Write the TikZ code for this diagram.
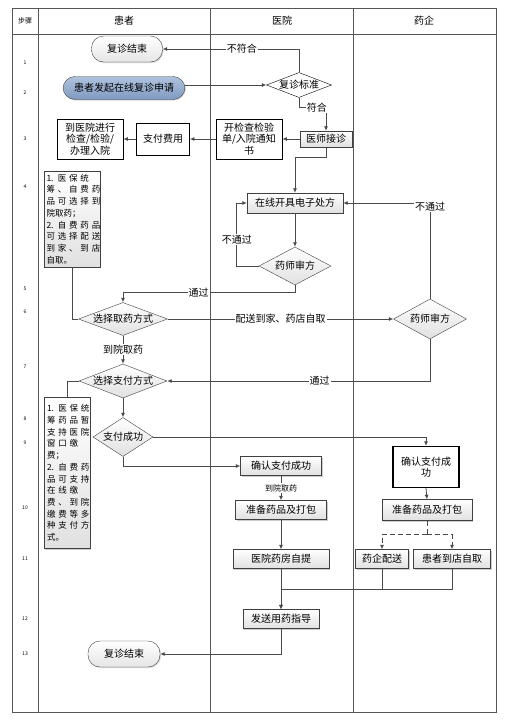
\documentclass[tikz,border=0pt]{standalone}
\usepackage{fontspec}
\setmainfont{Noto Sans CJK SC}
\usepackage{xcolor}
\usetikzlibrary{arrows.meta,positioning,shapes.geometric,shadows,calc}
\definecolor{lanegray}{HTML}{555555}
\definecolor{linegray}{HTML}{4A4A4A}
\definecolor{blueA}{HTML}{AFC3DE}
\definecolor{blueB}{HTML}{7F99C1}
\newcommand{\spread}[2]{\makebox[#1][s]{#2}}

\begin{document}
\begin{tikzpicture}[x=1pt,y=-1pt,
    every node/.style={font=\fontsize{10}{11.5}\selectfont},
    lane/.style   ={draw=lanegray,line width=0.9pt},
    stepno/.style ={font=\fontsize{5}{6}\selectfont},
    gbox/.style   ={rectangle,draw=black!75,top color=white,bottom color=black!12,
                    drop shadow={shadow xshift=1.2pt,shadow yshift=-1.2pt,fill=black!40},
                    inner sep=1pt,align=center},
    wbox/.style   ={rectangle,draw=black,fill=white,line width=0.8pt,
                    inner sep=1pt,align=center},
    term/.style   ={rectangle,rounded corners=12pt,draw=black!75,
                    top color=white,bottom color=black!10,
                    drop shadow={shadow xshift=1pt,shadow yshift=-1pt,fill=black!30}},
    start/.style  ={term,top color=blueA,bottom color=blueB},
    dec/.style    ={diamond,aspect=1,inner sep=0pt,draw=black!75,
                    top color=white,bottom color=black!12},
    note/.style   ={rectangle,draw=black!75,top color=white,bottom color=black!12,
                    drop shadow={shadow xshift=1.2pt,shadow yshift=-1.2pt,fill=black!40},
                    font=\fontsize{8.5}{11.7}\selectfont,align=left,inner sep=2pt},
    arr/.style={-{Latex[length=4.5pt,width=4pt]},draw=linegray,line width=0.8pt},
    ln/.style={draw=linegray,line width=0.8pt},
    lbl/.style={fill=white,inner sep=1pt},
  ]
  \useasboundingbox (0,0) rectangle (504,720);

  % Lanes and header
  \draw[lane] (12,8) rectangle (496,712);
  \draw[lane] (12,34) -- (496,34);
  \foreach \x in {38,210,353}
    \draw[lane] (\x,8) -- (\x,712);
  \node[font=\fontsize{7}{8}\selectfont] (hStep) at (25,21) {步骤};
  \node (hPat)  at (124,21) {患者};
  \node (hHosp) at (282,21) {医院};
  \node (hPh)   at (424,21) {药企};

  % Step numbers
  \foreach \n/\y in {1/63,2/93,3/139,4/187,5/289,6/312,7/367,8/419,9/443,10/508,11/559,12/619,13/654}
    \node[stepno] (s\n) at (25,\y) {\n};

  % Patient lane
  \node[term,minimum width=71pt,minimum height=26pt] (E1) at (127,49) {复诊结束};
  \node[start,minimum width=122pt,minimum height=23pt] (S) at (124,88) {患者发起在线复诊申请};
  \node[wbox,minimum width=66pt,minimum height=40pt] (Chk) at (90,139) {到医院进行\\检查/检验/\\办理入院};
  \node[wbox,minimum width=53pt,minimum height=32pt] (Pay) at (163,139) {支付费用};
  \node[note,minimum width=56pt,minimum height=96pt,text width=51pt] (N1) at (72,219)
    {\spread{51pt}{1. 医 保 统}\\\spread{51pt}{筹 、 自 费 药}\\\spread{51pt}{品 可 选 择 到}\\院取药；\\
     \spread{51pt}{2. 自 费 药 品}\\\spread{51pt}{可 选 择 配 送}\\\spread{51pt}{到 家 、 到 店}\\自取。};
  \node[dec,minimum width=89pt,minimum height=33pt] (D3) at (123,319) {\makebox[0pt]{选择取药方式}};
  \node[dec,minimum width=88pt,minimum height=34pt] (D5) at (123,381) {\makebox[0pt]{选择支付方式}};
  \node[note,minimum width=46pt,minimum height=151pt,text width=40pt,inner xsep=2.5pt] (N2) at (67,473)
    {\spread{40pt}{1. 医 保 统}\\\spread{40pt}{筹 药 品 暂}\\\spread{40pt}{支 持 医 院}\\\spread{40pt}{窗 口 缴}\\费；\\
     \spread{40pt}{2. 自 费 药}\\\spread{40pt}{品 可 支 持}\\\spread{40pt}{在 线 缴}\\\spread{40pt}{费 、 到 院}\\
     \spread{40pt}{缴 费 等 多}\\\spread{40pt}{种 支 付 方}\\式。};
  \node[dec,minimum width=60pt,minimum height=39pt] (D6) at (123,437) {\makebox[0pt]{支付成功}};
  \node[term,minimum width=72pt,minimum height=26pt] (E2) at (124,654) {复诊结束};

  % Hospital lane
  \node[dec,fill=white,top color=white,bottom color=white,draw=black,
        minimum width=65pt,minimum height=25pt] (D1) at (299,85) {\makebox[0pt]{复诊标准}};
  \node[wbox,minimum width=66pt,minimum height=40pt] (Ord) at (249,139) {开检查检验\\单/入院通知\\书};
  \node[gbox,minimum width=52pt,minimum height=16pt] (Doc) at (326,139) {医师接诊};
  \node[gbox,minimum width=96pt,minimum height=20pt] (Rx) at (295,203) {在线开具电子处方};
  \node[dec,minimum width=72pt,minimum height=38pt] (D2) at (295,266) {\makebox[0pt]{药师审方}};
  \node[gbox,minimum width=81pt,minimum height=19pt] (P1) at (281,466) {确认支付成功};
  \node[gbox,minimum width=91pt,minimum height=19pt] (P2) at (281,510) {准备药品及打包};
  \node[gbox,minimum width=96pt,minimum height=19pt] (P3) at (281,559) {医院药房自提};
  \node[gbox,minimum width=76pt,minimum height=19pt] (P4) at (281,619) {发送用药指导};

  % Pharma lane
  \node[dec,minimum width=73pt,minimum height=40pt] (D4) at (430,319) {\makebox[0pt]{药师审方}};
  \node[wbox,line width=1.2pt,minimum width=66pt,minimum height=41pt] (Q1) at (426,467) {确认支付成\\功};
  \node[gbox,minimum width=90pt,minimum height=21pt] (Q2) at (427,510) {准备药品及打包};
  \node[gbox,minimum width=53pt,minimum height=19pt] (Q3) at (382,559) {药企配送};
  \node[gbox,minimum width=77pt,minimum height=19pt] (Q4) at (452,559) {患者到店自取};

  % Connectors
  \draw[arr] (S.east |- D1.west) -- (D1.west);
  \draw[arr] (D1.north) |- (E1.east) node[lbl,pos=0.71] {不符合};
  \draw[arr] (D1.south) -- ++(0,10) -| (Doc.north) node[lbl,pos=0.33] {符合};
  \draw[arr] (Doc.west) -- (Ord.east);
  \draw[arr] (Ord.west) -- (Pay.east);
  \draw[arr] (Pay.west) -- (Chk.east);
  \draw[arr] (Doc.south) -- ++(0,10) -| (Rx.north);
  \draw[arr] (Rx.south) -- (D2.north);
  \draw[arr] (D2.west) -- ++(-22,0) |- (Rx.west) node[lbl,pos=0.21] {不通过};
  \draw[arr] (D2.south) -- ++(0,7) -| (D3.north) node[lbl,pos=0.28] {通过};
  \draw[ln]  (N1.south) |- (D3.west);
  \draw[arr] (D3.east) -- (D4.west) node[lbl,pos=0.5] {配送到家、药店自取};
  \draw[arr] (D4.north) |- (Rx.east) node[lbl,pos=0.48] {不通过};
  \draw[arr] (D3.south) -- (D5.north) node[lbl,midway] {到院取药};
  \draw[arr] (D4.south) |- (D5.east) node[lbl,pos=0.71] {通过};
  \draw[ln]  (D5.west) -| (N2.north);
  \draw[arr] (D5.south) -- (D6.north);
  \draw[arr] (D6.east) -| (Q1.north);
  \draw[arr] (D6.south) |- (P1.west);
  \draw[arr] (P1.south) -- (P2.north) node[lbl,midway,font=\fontsize{8}{9}\selectfont] {到院取药};
  \draw[arr] (P2.south) -- (P3.north);
  \draw[arr] (P3.south) -- (P4.north);
  \draw[arr] (Q1.south) -- (Q2.north);
  \draw[ln,dashed,dash pattern=on 5pt off 3pt] (Q2.south) -- ++(0,14) coordinate (fork);
  \draw[arr,dashed,dash pattern=on 5pt off 3pt] (fork) -| (Q3.north);
  \draw[arr,dashed,dash pattern=on 5pt off 3pt] (fork) -| (Q4.north);
  \coordinate (join) at (281,589);
  \draw[arr] (Q4.south) |- (join) -- (P4.north);
  \draw[ln]  (Q3.south) -- (Q3.south |- join);
  \draw[arr] (P4.south) |- (E2.east);
\end{tikzpicture}
\end{document}
